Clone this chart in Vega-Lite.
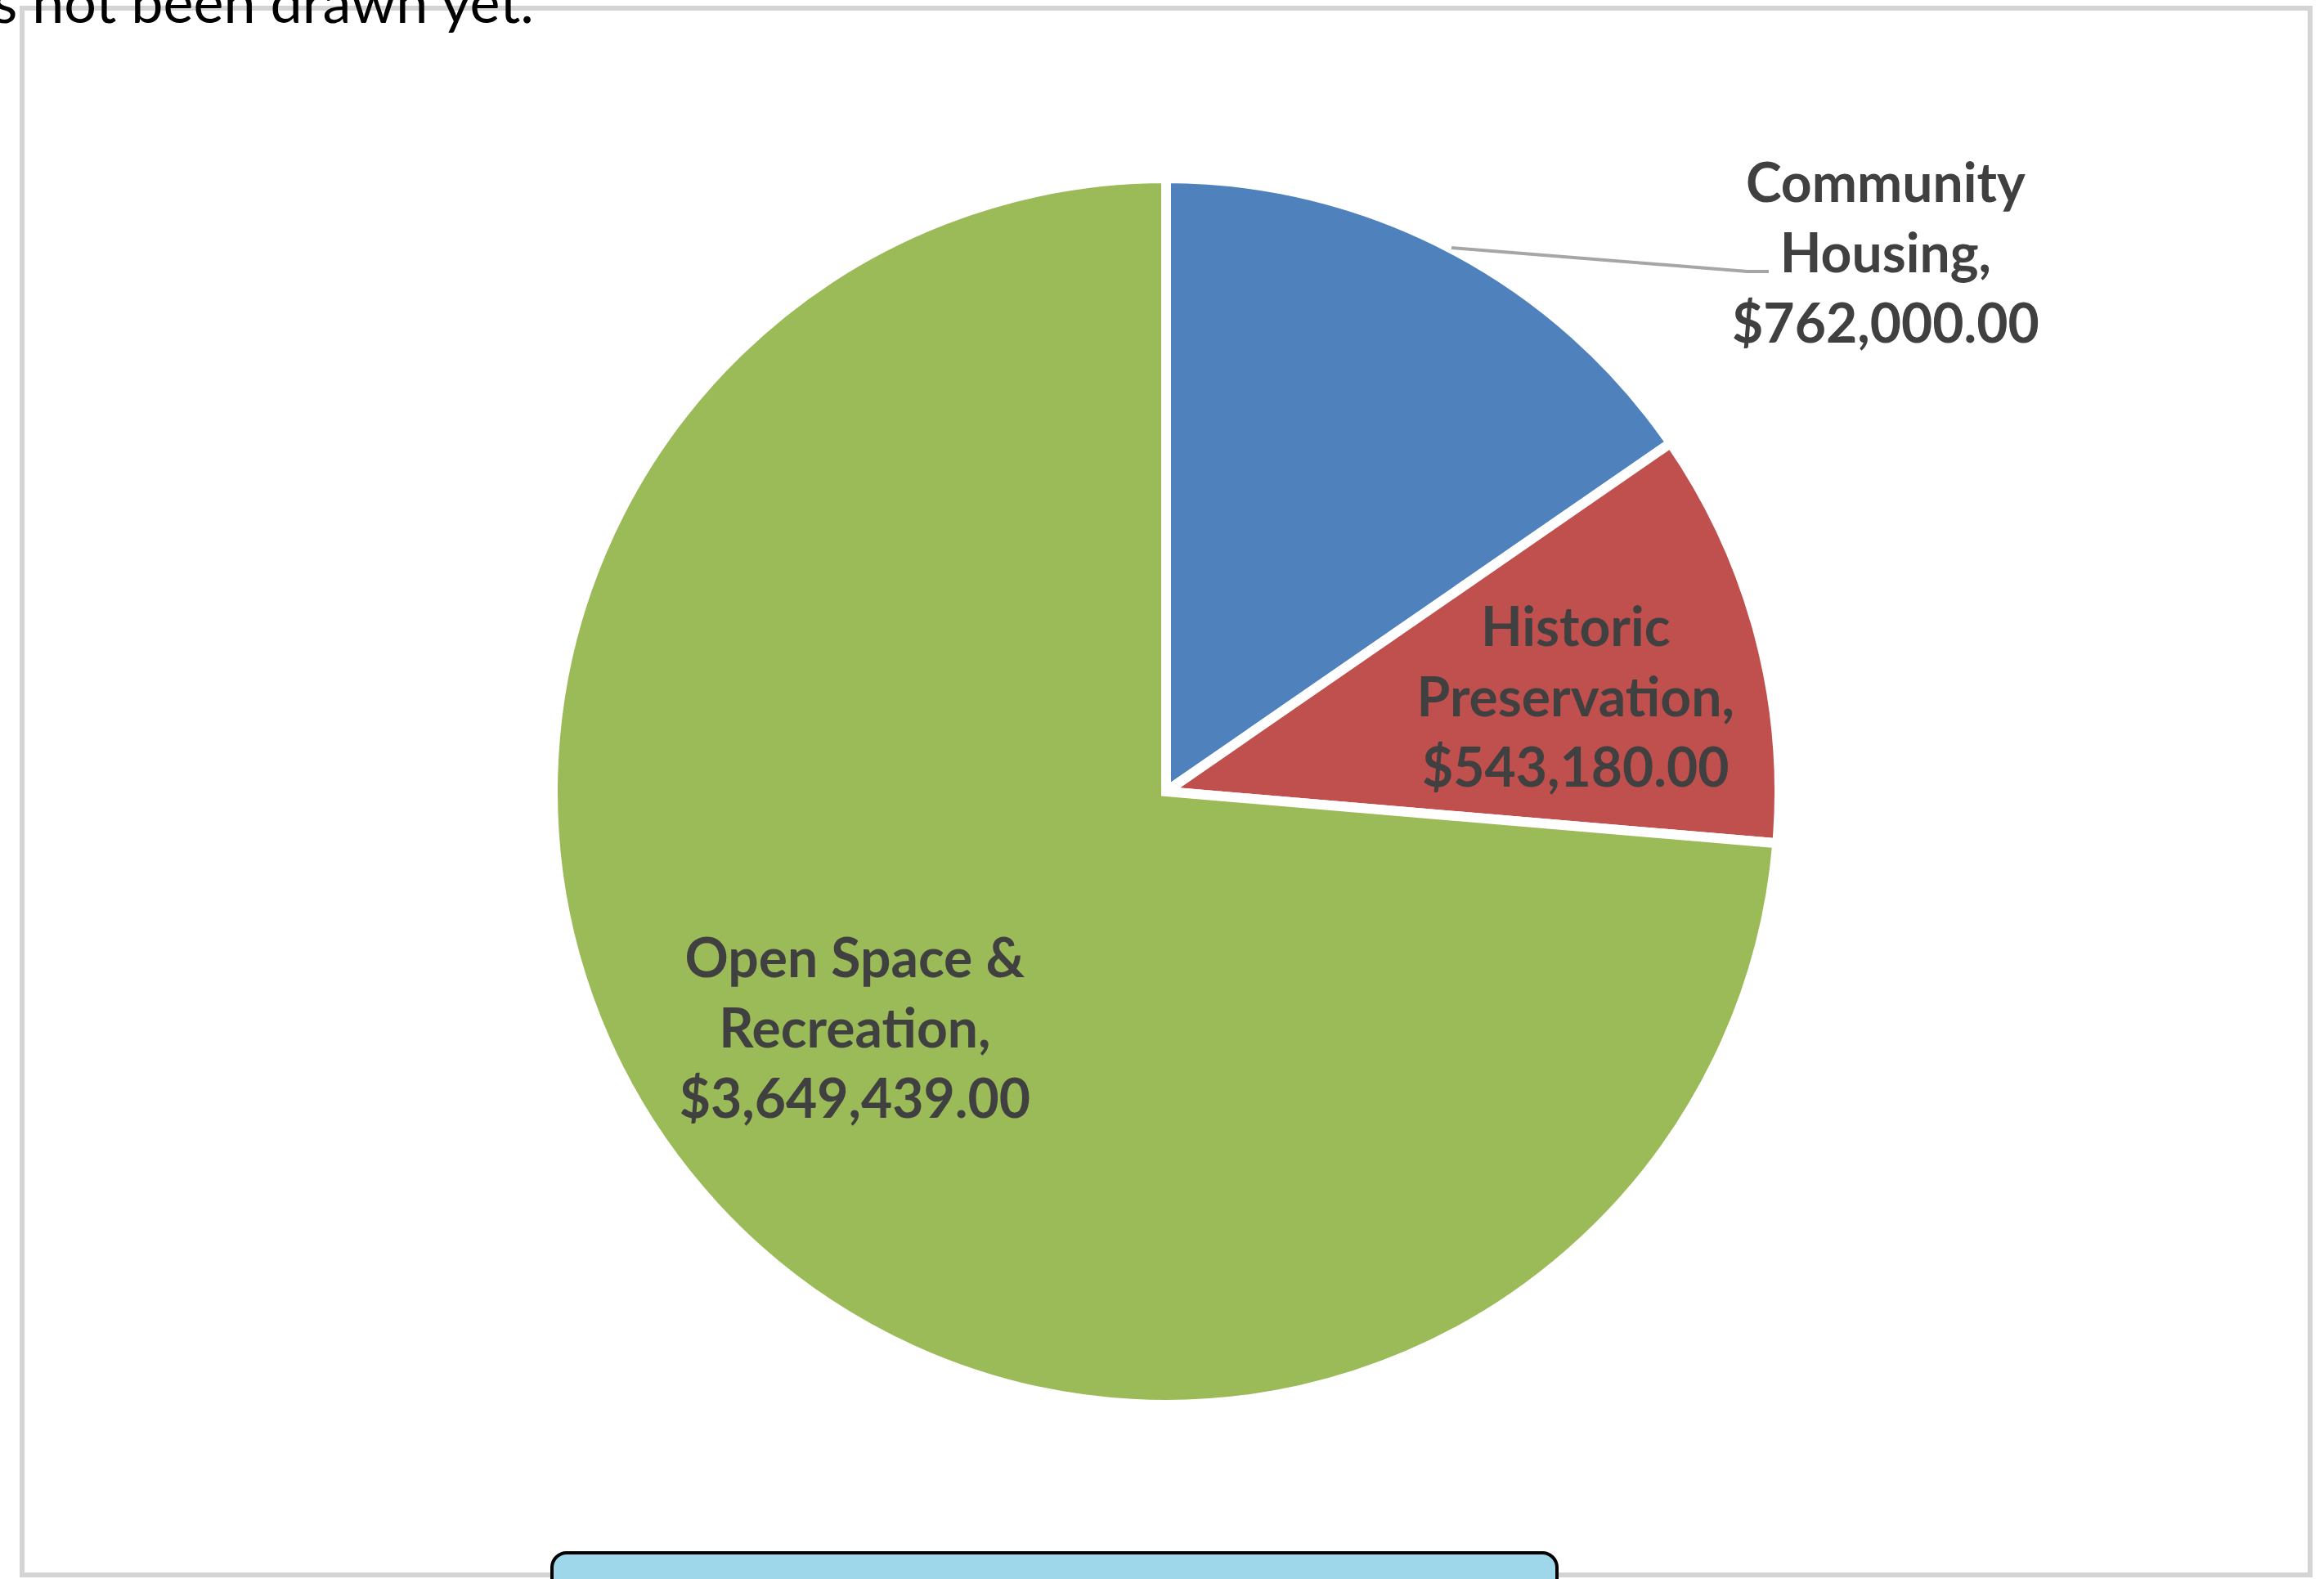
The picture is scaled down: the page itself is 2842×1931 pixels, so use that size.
{
  "$schema": "https://vega.github.io/schema/vega-lite/v6.json",
  "width": 2798,
  "height": 1916,
  "autosize": {"type": "none"},
  "padding": {"left": 27, "top": 10, "right": 17, "bottom": 5},
  "background": "white",
  "view": {"stroke": "#d4d4d4", "strokeWidth": 6},
  "config": {"view": {"stroke": "#d4d4d4", "strokeWidth": 6}, "style": {"cell": {"stroke": "#d4d4d4", "strokeWidth": 6}}},
  "title": {
    "text": "s not been drawn yet.",
    "anchor": "start",
    "frame": "group",
    "orient": "top",
    "offset": 0,
    "baseline": "alphabetic",
    "dx": -36,
    "dy": 88,
    "font": "Lato",
    "fontSize": 70,
    "fontWeight": "normal",
    "color": "#000000"
  },
  "data": {
    "values": [
      {"category": "Community Housing", "amount": 762000},
      {"category": "Historic Preservation", "amount": 543180},
      {"category": "Open Space & Recreation", "amount": 3649439}
    ]
  },
  "transform": [
    {"calculate": "datum.category == 'Open Space & Recreation' ? ['Open Space &', 'Recreation,', format(datum.amount, '$,.2f')] : [split(datum.category, ' ')[0], split(datum.category, ' ')[1] + ',', format(datum.amount, '$,.2f')]", "as": "label"}
  ],
  "layer": [
    {
      "mark": {"type": "arc", "outerRadius": 750, "stroke": "#ffffff", "strokeWidth": 12},
      "encoding": {
        "theta": {"field": "amount", "type": "quantitative", "stack": true},
        "order": {"field": "category", "type": "ordinal", "sort": "ascending"},
        "color": {
          "field": "category",
          "type": "nominal",
          "scale": {
            "domain": ["Community Housing", "Historic Preservation", "Open Space & Recreation"],
            "range": ["#4F81BD", "#C0504D", "#9BBB59"]
          },
          "legend": null
        }
      }
    },
    {
      "data": {"values": [{}]},
      "mark": {"type": "rule", "stroke": "#a6a6a6", "strokeWidth": 4},
      "encoding": {
        "x": {"value": 1748},
        "y": {"value": 293},
        "x2": {"value": 2110},
        "y2": {"value": 322}
      }
    },
    {
      "data": {"values": [{}]},
      "mark": {"type": "rule", "stroke": "#a6a6a6", "strokeWidth": 4},
      "encoding": {
        "x": {"value": 2108},
        "y": {"value": 322},
        "x2": {"value": 2136},
        "y2": {"value": 322}
      }
    },
    {
      "data": {"values": [{}]},
      "mark": {"type": "rect", "fill": "#9ed7ea", "stroke": "#000000", "strokeWidth": 4, "cornerRadius": 18},
      "encoding": {
        "x": {"value": 648},
        "x2": {"value": 1877},
        "y": {"value": 1889},
        "y2": {"value": 1990}
      }
    },
    {
      "transform": [{"calculate": "datum.category == 'Community Housing' ? datum.label : ''", "as": "t"}],
      "mark": {"type": "text", "radius": 751, "dx": 531, "dy": -76, "font": "Lato", "fontSize": 66, "fontWeight": "bold", "lineHeight": 86, "align": "center", "baseline": "middle", "color": "#404040"},
      "encoding": {
        "theta": {"field": "amount", "type": "quantitative", "stack": true},
        "order": {"field": "category", "type": "ordinal", "sort": "ascending"},
        "detail": {"field": "category", "type": "nominal"},
        "text": {"field": "t"}
      }
    },
    {
      "transform": [{"calculate": "datum.category == 'Historic Preservation' ? datum.label : ''", "as": "t"}],
      "mark": {"type": "text", "radius": 514, "dx": 4, "dy": -66, "font": "Lato", "fontSize": 66, "fontWeight": "bold", "lineHeight": 86, "align": "center", "baseline": "middle", "color": "#404040"},
      "encoding": {
        "theta": {"field": "amount", "type": "quantitative", "stack": true},
        "order": {"field": "category", "type": "ordinal", "sort": "ascending"},
        "detail": {"field": "category", "type": "nominal"},
        "text": {"field": "t"}
      }
    },
    {
      "transform": [{"calculate": "datum.category == 'Open Space & Recreation' ? datum.label : ''", "as": "t"}],
      "mark": {"type": "text", "radius": 483, "dx": -25, "dy": -120, "font": "Lato", "fontSize": 66, "fontWeight": "bold", "lineHeight": 86, "align": "center", "baseline": "middle", "color": "#404040"},
      "encoding": {
        "theta": {"field": "amount", "type": "quantitative", "stack": true},
        "order": {"field": "category", "type": "ordinal", "sort": "ascending"},
        "detail": {"field": "category", "type": "nominal"},
        "text": {"field": "t"}
      }
    }
  ]
}
